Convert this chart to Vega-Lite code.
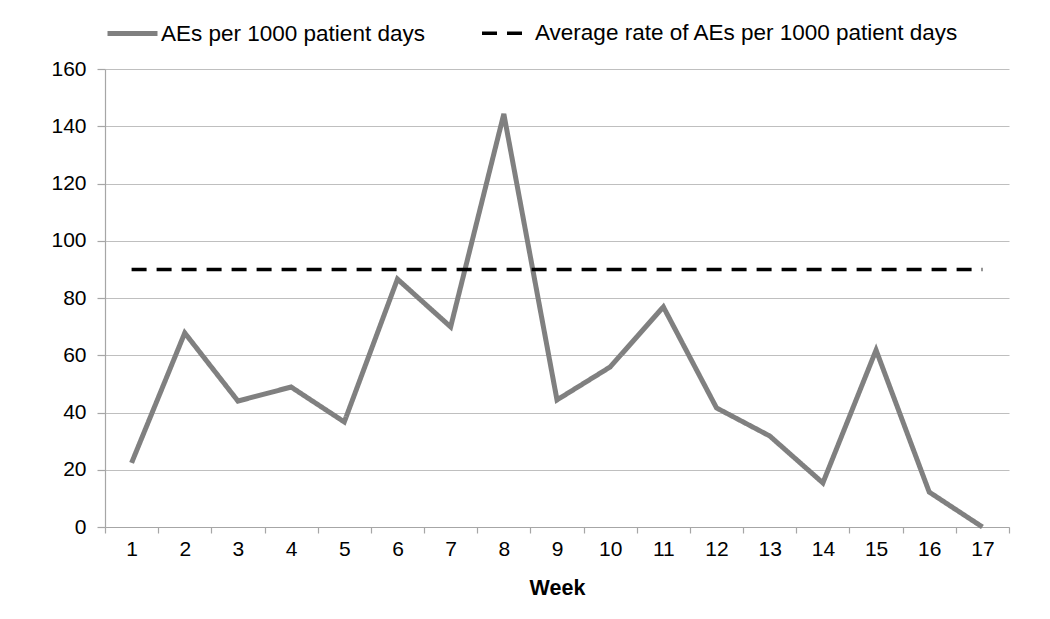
{
  "$schema": "https://vega.github.io/schema/vega-lite/v6.json",
  "autosize": "none",
  "width": 904,
  "height": 458,
  "padding": {"left": 105, "top": 69, "right": 41, "bottom": 92},
  "background": "white",
  "datasets": {
    "rates": [
      {"week": 1, "series": "AEs per 1000 patient days", "value": 22.4},
      {"week": 2, "series": "AEs per 1000 patient days", "value": 67.8},
      {"week": 3, "series": "AEs per 1000 patient days", "value": 44.0},
      {"week": 4, "series": "AEs per 1000 patient days", "value": 48.9},
      {"week": 5, "series": "AEs per 1000 patient days", "value": 36.7},
      {"week": 6, "series": "AEs per 1000 patient days", "value": 86.6},
      {"week": 7, "series": "AEs per 1000 patient days", "value": 69.9},
      {"week": 8, "series": "AEs per 1000 patient days", "value": 144.3},
      {"week": 9, "series": "AEs per 1000 patient days", "value": 44.4},
      {"week": 10, "series": "AEs per 1000 patient days", "value": 55.9},
      {"week": 11, "series": "AEs per 1000 patient days", "value": 76.9},
      {"week": 12, "series": "AEs per 1000 patient days", "value": 41.6},
      {"week": 13, "series": "AEs per 1000 patient days", "value": 31.8},
      {"week": 14, "series": "AEs per 1000 patient days", "value": 15.4},
      {"week": 15, "series": "AEs per 1000 patient days", "value": 61.8},
      {"week": 16, "series": "AEs per 1000 patient days", "value": 12.2},
      {"week": 17, "series": "AEs per 1000 patient days", "value": 0},
      {"week": 1, "series": "Average rate of AEs per 1000 patient days", "value": 90},
      {"week": 17, "series": "Average rate of AEs per 1000 patient days", "value": 90}
    ]
  },
  "data": {"name": "rates"},
  "mark": {"type": "line", "strokeCap": "butt"},
  "encoding": {
    "x": {
      "field": "week",
      "type": "ordinal",
      "bandPosition": 0.5,
      "scale": {"type": "band", "paddingInner": 0, "paddingOuter": 0, "domain": [1,2,3,4,5,6,7,8,9,10,11,12,13,14,15,16,17]},
      "axis": {
        "title": "Week",
        "titleFont": "Liberation Sans",
        "titleFontSize": 21.5,
        "titleFontWeight": "bold",
        "titleColor": "#000000",
        "titlePadding": 18,
        "labelAngle": 0,
        "labelFont": "Liberation Sans",
        "labelFontSize": 21,
        "labelColor": "#000000",
        "labelPadding": 5,
        "tickBand": "extent",
        "tickSize": 6,
        "tickColor": "#a6a6a6",
        "domainColor": "#a6a6a6",
        "grid": false
      }
    },
    "y": {
      "field": "value",
      "type": "quantitative",
      "scale": {"domain": [0, 160], "nice": false},
      "axis": {
        "title": null,
        "values": [0,20,40,60,80,100,120,140,160],
        "labelFont": "Liberation Sans",
        "labelFontSize": 21,
        "labelColor": "#000000",
        "labelPadding": 11,
        "tickSize": 8,
        "tickColor": "#a6a6a6",
        "domainColor": "#a6a6a6",
        "gridColor": "#bfbfbf",
        "gridWidth": 1.2
      }
    },
    "color": {
      "field": "series",
      "type": "nominal",
      "scale": {"domain": ["AEs per 1000 patient days", "Average rate of AEs per 1000 patient days"], "range": ["#808080", "#000000"]},
      "legend": {
        "orient": "top",
        "direction": "horizontal",
        "title": null,
        "labelFont": "Liberation Sans",
        "labelFontSize": 22.5,
        "labelColor": "#000000",
        "symbolType": "stroke",
        "symbolSize": 2500,
        "symbolStrokeWidth": 5,
        "columnPadding": 50,
        "offset": 24,
        "labelOffset": 1,
        "labelLimit": 600,
        "padding": 0
      }
    },
    "strokeDash": {
      "field": "series",
      "type": "nominal",
      "scale": {"domain": ["AEs per 1000 patient days", "Average rate of AEs per 1000 patient days"], "range": [[1, 0], [15, 10]]},
      "legend": null
    },
    "strokeWidth": {
      "field": "series",
      "type": "nominal",
      "scale": {"domain": ["AEs per 1000 patient days", "Average rate of AEs per 1000 patient days"], "range": [5, 3.5]},
      "legend": null
    }
  },
  "config": {
    "view": {"stroke": null},
    "axis": {"domainWidth": 1.2, "tickWidth": 1.2}
  }
}
